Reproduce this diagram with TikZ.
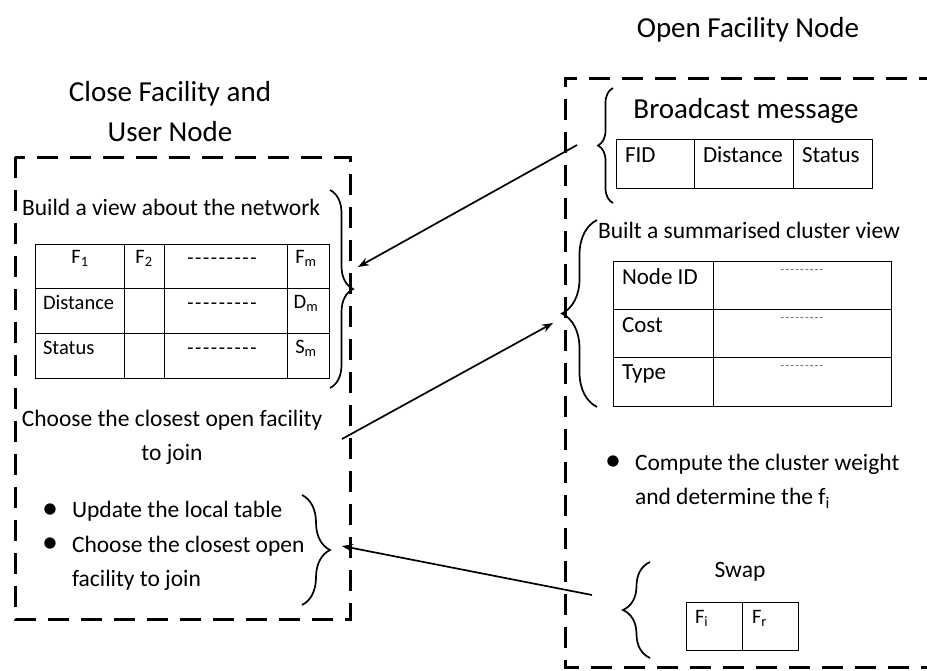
\documentclass[tikz,border=0pt]{standalone}
\usepackage{fontspec}
\setmainfont{Carlito}
\usetikzlibrary{arrows.meta,decorations.pathreplacing}

% a row of nine separate hyphens (kerns keep them from joining into dashes)
\newcommand\hyphrow[1]{-\kern#1-\kern#1-\kern#1-\kern#1-\kern#1-\kern#1-\kern#1-\kern#1-}

\begin{document}
\begin{tikzpicture}[x=1pt,y=-1pt,
  frame/.style={line width=3pt, dash pattern=on 21pt off 12pt},
  curly/.style={decorate, decoration={brace, amplitude=#1}, line width=1.7pt},
  cellline/.style={line width=1pt},
  link/.style={line width=1.7pt, -{Stealth[length=11pt,width=8pt]}},
  base/.style={inner sep=0pt, outer sep=0pt},
  title/.style={base, align=center, font=\fontsize{29}{40}\selectfont},
  body/.style={base, font=\fontsize{23.5}{34}\selectfont},
  tabA/.style={base, font=\fontsize{20.5}{24}\selectfont},
  tabB/.style={base, font=\fontsize{23}{27}\selectfont},
  tiny/.style={base, font=\fontsize{12}{14}\selectfont, text=black!65},
  dot/.style={base, font=\fontsize{32}{32}\selectfont}
]
\useasboundingbox (0,0) rectangle (927,670);

% ---------------- titles ----------------
\node[title] (closeT) at (170,112) {Close Facility and\\User Node};
\node[title] (openT) at (748,30) {Open Facility Node};

% ---------------- dashed node frames ----------------
\draw[frame] (15,157) rectangle (350,619);
\draw[frame] (940,78) -- (565,78) -- (565,667) -- (940,667);

% ---------------- close facility / user node ----------------
\node[body, anchor=west] (build) at (22,207) {Build a view about the network};

% view table
\draw[cellline] (35,244) rectangle (329,378);
\foreach \yy in {288,333} \draw[cellline] (35,\yy) -- (329,\yy);
\foreach \xx in {124,164,287} \draw[cellline] (\xx,244) -- (\xx,378);
\node[tabA] (f1) at (80,258) {F\textsubscript{1}};
\node[tabA] (f2) at (144,258) {F\textsubscript{2}};
\node[tabA] (d1) at (222,261) {\hyphrow{1.6pt}};
\node[tabA] (fm) at (306,258) {F\textsubscript{m}};
\node[tabA, anchor=west] (dist) at (43,303) {Distance};
\node[tabA] (d2) at (222,306) {\hyphrow{1.6pt}};
\node[tabA] (dm) at (306,303) {D\textsubscript{m}};
\node[tabA, anchor=west] (stat) at (43,348) {Status};
\node[tabA] (d3) at (222,351) {\hyphrow{1.6pt}};
\node[tabA] (sm) at (306,348) {S\textsubscript{m}};

\draw[curly=23] (330,190) -- (330,388);
\coordinate (viewIn) at (358,267);

\node[body, align=center] (choose) at (172,437) {Choose the closest open facility\\to join};
\coordinate (chooseOut) at (342,439);

\node[dot] (b1) at (50,511) {\textbullet};
\node[body, anchor=west] (upd) at (72,511) {Update the local table};
\node[dot] (b2) at (50,545) {\textbullet};
\node[body, anchor=north west, align=left] (join) at (72,536) {Choose the closest open\\facility to join};

\draw[curly=28] (302,495) -- (302,605);
\coordinate (swapIn) at (342,546);

% ---------------- open facility node ----------------
\node[title] (bcast) at (746,111) {Broadcast message};
\draw[cellline] (616,139) rectangle (872,188);
\foreach \xx in {694,793} \draw[cellline] (\xx,139) -- (\xx,188);
\node[tabB, anchor=west] (fid) at (625,155) {FID};
\node[tabB, anchor=west] (bdist) at (703,155) {Distance};
\node[tabB, anchor=west] (bstat) at (802,155) {Status};
\draw[curly=15] (613,203) -- (613,88);
\coordinate (bcastOut) at (577,145);

\node[body, anchor=west] (built) at (598,230) {Built a summarised cluster view};
\draw[cellline] (613,261) rectangle (891,406);
\foreach \yy in {309,357} \draw[cellline] (613,\yy) -- (891,\yy);
\draw[cellline] (713,261) -- (713,406);
\node[tabB, anchor=west] (nid) at (622,277) {Node ID};
\node[tabB, anchor=west] (cost) at (622,325) {Cost};
\node[tabB, anchor=west] (type) at (622,374) {Type};
\node[tiny] (e1) at (802,272) {\hyphrow{1.2pt}};
\node[tiny] (e2) at (802,320) {\hyphrow{1.2pt}};
\node[tiny] (e3) at (802,368) {\hyphrow{1.2pt}};
\draw[curly=35] (597,407) -- (597,220);
\coordinate (clusterIn) at (553,323);

\node[dot] (b3) at (613,463) {\textbullet};
\node[body, anchor=north west, align=left] (comp) at (635,454) {Compute the cluster weight\\and determine the f\textsubscript{i}};

\node[body] (swap) at (740,572) {Swap};
\draw[cellline] (686,602) rectangle (798,650);
\draw[cellline] (742,602) -- (742,650);
\node[tabA, anchor=west] (fi) at (695,618) {F\textsubscript{i}};
\node[tabA, anchor=west] (fr) at (752,618) {F\textsubscript{r}};
\draw[curly=27] (650,658) -- (650,562);
\coordinate (swapOut) at (592,595);

% ---------------- messages between the nodes ----------------
\draw[link] (bcastOut) -- (viewIn);
\draw[link] (chooseOut) -- (clusterIn);
\draw[link] (swapOut) -- (swapIn);
\end{tikzpicture}
\end{document}
